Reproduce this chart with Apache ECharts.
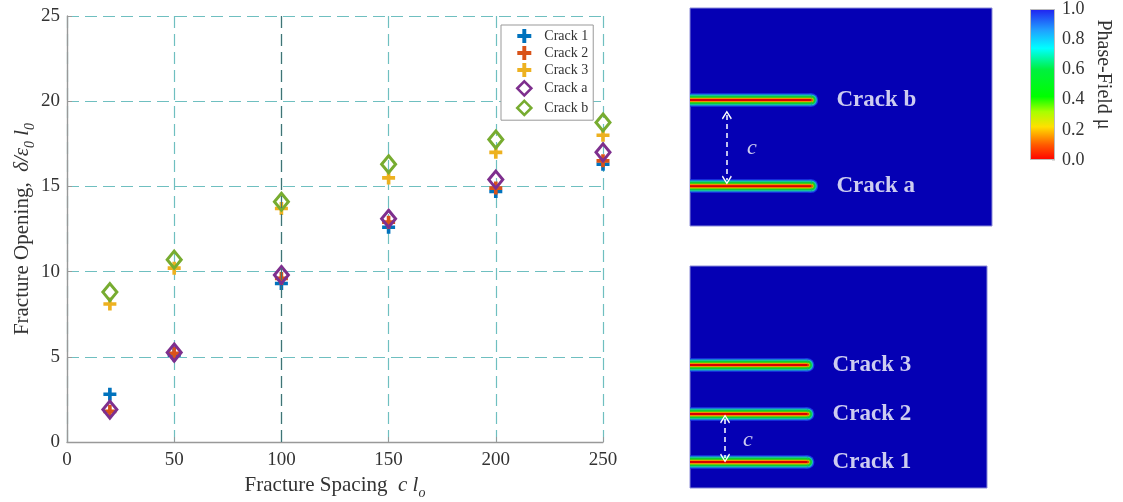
<!DOCTYPE html>
<html>
<head>
<meta charset="utf-8">
<script src="https://cdn.jsdelivr.net/npm/echarts@6/dist/echarts.min.js"></script>
<style>
html, body { margin: 0; padding: 0; background: #fff; }
#chart { width: 1123px; height: 502px; }
</style>
</head>
<body>
<div id="chart"></div>
<script>
// fracture spacing c/l0 and opening for each crack
const spacing = [20, 50, 100, 150, 200, 250]
const crack1 = [2.8, 5.1, 9.3, 12.6, 14.7, 16.3]
const crack2 = [1.8, 5.2, 9.6, 12.9, 14.9, 16.5]
const crack3 = [8.1, 10.2, 13.7, 15.5, 17.0, 18.0]
const crackA = [1.9, 5.25, 9.8, 13.1, 15.4, 17.0]
const crackB = [8.8, 10.7, 14.1, 16.3, 17.75, 18.75]

const xTicks = [0, 50, 100, 150, 200, 250]
const yTicks = [0, 5, 10, 15, 20, 25]
const colorbarTicks = [0, 0.2, 0.4, 0.6, 0.8, 1.0]

// sketch panels (fractions of panel size)
const topCracks = [{ name: 'Crack b', y: 0.578 }, { name: 'Crack a', y: 0.183 }]
const bottomCracks = [{ name: 'Crack 3', y: 0.554 }, { name: 'Crack 2', y: 0.333 }, { name: 'Crack 1', y: 0.117 }]
const topTip = 0.402
const bottomTip = 0.396
const topArrow = { x: 0.122, from: 0.509, to: 0.211, labelX: 0.205, labelY: 0.358 }
const bottomArrow = { x: 0.118, from: 0.311, to: 0.135, labelX: 0.195, labelY: 0.216 }

const serif = '"Liberation Serif", "Times New Roman", serif'
const plusPath = 'path://M3.6,0H6.4V3.6H10V6.4H6.4V10H3.6V6.4H0V3.6H3.6Z'
const chevron = 'path://M5,0L10,8L9,9.2L5,2.4L1,9.2L0,8Z'

const pairs = (ys) => spacing.map((x, i) => [x, ys[i]])

const plusSeries = (name, ys, color) => ({
  name, type: 'scatter', data: pairs(ys),
  symbol: plusPath, symbolSize: 13,
  itemStyle: { color, opacity: 1 },
})
const diamondSeries = (name, ys, color) => ({
  name, type: 'scatter', data: pairs(ys),
  symbol: 'diamond', symbolSize: [14, 17],
  itemStyle: { color: 'rgba(0,0,0,0)', borderColor: color, borderWidth: 3, opacity: 1 },
})

// phase-field band, outer to inner
const bandLayers = [
  { color: '#1a3ee6', width: 13.5 },
  { color: '#18c4b4', width: 11 },
  { color: '#10c838', width: 8.5 },
  { color: '#5ad000', width: 5.6 },
  { color: '#f0c000', width: 4.2 },
  { color: '#f06000', width: 3.1 },
  { color: '#d80000', width: 1.9 },
]

const crackSeries = (gi, cracks, tip) =>
  bandLayers.flatMap((l) => cracks.map((c) => ({
    type: 'line', xAxisIndex: gi, yAxisIndex: gi, silent: true,
    data: [[0, c.y], [tip, c.y]], symbol: 'none', clip: true,
    lineStyle: { color: l.color, width: l.width, cap: 'butt' },
  })).concat([{
    // rounded crack tip
    type: 'scatter', xAxisIndex: gi, yAxisIndex: gi, silent: true,
    data: cracks.map((c) => [tip, c.y]), symbol: 'circle', symbolSize: l.width,
    itemStyle: { color: l.color, opacity: 1 },
  }]))

const labelSeries = (gi, cracks, tip, arrow) => ({
  type: 'scatter', xAxisIndex: gi, yAxisIndex: gi, silent: true, symbolSize: 0,
  data: cracks.map((c) => ({ value: [tip, c.y], name: c.name })).concat([
    { value: [arrow.labelX, arrow.labelY], name: 'c',
      label: { position: 'inside', fontStyle: 'italic', fontWeight: 'normal', fontSize: 22 } },
  ]),
  label: {
    show: true, position: 'right', distance: 25, formatter: '{b}',
    color: '#fff', fontFamily: serif, fontWeight: 'bold', fontSize: 23,
  },
  markLine: {
    silent: true, symbol: [chevron, chevron], symbolSize: [10, 9],
    label: { show: false },
    lineStyle: { color: '#fff', type: [5, 4], width: 1.5 },
    data: [[{ coord: [arrow.x, arrow.from] }, { coord: [arrow.x, arrow.to] }]],
  },
})

const hiddenAxis = (gi) => ({ type: 'value', gridIndex: gi, min: 0, max: 1, show: false })
const panelGrid = (left, top, width, height) => ({
  left, top, width, height, show: true, outerBoundsMode: 'none',
  backgroundColor: '#0500b4', borderColor: '#8c8cd8', borderWidth: 1,
})

const gridLine = { show: true, lineStyle: { color: '#6fbfc0', type: [12, 6], width: 1.2 } }
const tickLabel = { color: '#333', fontFamily: serif, fontSize: 19 }
const titleRich = {
  t: { fontFamily: serif, fontSize: 21, color: '#333' },
  i: { fontFamily: serif, fontSize: 21, fontStyle: 'italic', color: '#333' },
  s: { fontFamily: serif, fontSize: 14, fontStyle: 'italic', color: '#333', padding: [15, 0, 0, 0] },
}

const chart = echarts.init(document.getElementById('chart'))
chart.setOption({
  animation: false,
  legend: {
    orient: 'vertical', left: 501, top: 25,
    data: [
      { name: 'Crack 1' }, { name: 'Crack 2' }, { name: 'Crack 3' },
      { name: 'Crack a', itemStyle: { borderWidth: 2.6 } },
      { name: 'Crack b', itemStyle: { borderWidth: 2.6 } },
    ],
    backgroundColor: '#fff', borderColor: '#999', borderWidth: 1,
    padding: [4, 5, 4, 15], itemGap: 3, itemWidth: 14, itemHeight: 14,
    textStyle: { color: '#333', fontFamily: serif, fontSize: 14, padding: [0, 0, 0, 8] },
  },
  grid: [
    { left: 67, top: 16, width: 536, height: 426, outerBoundsMode: 'none' },
    panelGrid(690, 8, 302, 218),
    panelGrid(690, 266, 297, 222),
    { left: 1030, top: 9, width: 25, height: 151, outerBoundsMode: 'none' },
  ],
  xAxis: [
    {
      type: 'value', gridIndex: 0, min: xTicks[0], max: xTicks[xTicks.length - 1], interval: 50,
      name: '{t|Fracture Spacing  }{i|c l}{s|o}', nameLocation: 'middle', nameGap: 24,
      nameTextStyle: { rich: titleRich },
      axisLine: { lineStyle: { color: '#999', width: 1.4 } },
      axisTick: { inside: true, length: 5, lineStyle: { color: '#999' } },
      axisLabel: { ...tickLabel, margin: 9 },
      splitLine: gridLine,
    },
    { type: 'category', gridIndex: 3, data: ['μ'], show: false },
    hiddenAxis(1), hiddenAxis(2),
  ],
  yAxis: [
    {
      type: 'value', gridIndex: 0, min: yTicks[0], max: yTicks[yTicks.length - 1], interval: 5,
      name: '{t|Fracture Opening,  }{i|δ/ε}{s|0}{i| l}{s|0}', nameLocation: 'middle', nameGap: 29,
      nameTextStyle: { rich: titleRich },
      axisLine: { show: true, lineStyle: { color: '#999', width: 1.4 } },
      axisTick: { show: true, inside: true, length: 5, lineStyle: { color: '#999' } },
      axisLabel: { ...tickLabel, margin: 7 },
      splitLine: gridLine,
    },
    {
      type: 'value', gridIndex: 3, min: colorbarTicks[0], max: colorbarTicks[colorbarTicks.length - 1],
      interval: 0.2, position: 'right',
      name: 'Phase-Field μ', nameLocation: 'middle', nameRotate: -90, nameGap: 38,
      nameTextStyle: { color: '#333', fontFamily: serif, fontSize: 20, padding: [0, 20, 0, 0] },
      axisLine: { show: false },
      axisTick: { show: true, inside: true, length: 3, lineStyle: { color: '#ddd' } },
      axisLabel: { ...tickLabel, fontSize: 18, margin: 7, formatter: (v) => v.toFixed(1) },
      splitLine: { show: false },
    },
    hiddenAxis(1), hiddenAxis(2),
  ],
  series: [
    plusSeries('Crack 1', crack1, '#0072BD'),
    plusSeries('Crack 2', crack2, '#D95319'),
    plusSeries('Crack 3', crack3, '#EDB120'),
    diamondSeries('Crack a', crackA, '#7E2F8E'),
    diamondSeries('Crack b', crackB, '#77AC30'),
    {
      type: 'line', data: [], silent: true,
      markLine: {
        silent: true, symbol: 'none', label: { show: false },
        lineStyle: { color: '#3f7475', type: [12, 6], width: 1.2 },
        data: [{ xAxis: 100 }],
      },
      z: 1,
    },
    ...crackSeries(2, topCracks, topTip),
    labelSeries(2, topCracks, topTip, topArrow),
    ...crackSeries(3, bottomCracks, bottomTip),
    labelSeries(3, bottomCracks, bottomTip, bottomArrow),
    {
      type: 'bar', xAxisIndex: 1, yAxisIndex: 1, data: [1], barWidth: '100%', silent: true,
      itemStyle: {
        borderColor: '#bbb', borderWidth: 1,
        color: {
          type: 'linear', x: 0, y: 1, x2: 0, y2: 0,
          colorStops: [
            { offset: 0, color: '#ff0000' },
            { offset: 0.1, color: '#ff5a00' },
            { offset: 0.22, color: '#ffe000' },
            { offset: 0.32, color: '#a8ff00' },
            { offset: 0.42, color: '#00ff00' },
            { offset: 0.6, color: '#00f040' },
            { offset: 0.74, color: '#00ffff' },
            { offset: 0.86, color: '#20a0ff' },
            { offset: 1, color: '#2020f0' },
          ],
        },
      },
    },
  ],
})
</script>
</body>
</html>
